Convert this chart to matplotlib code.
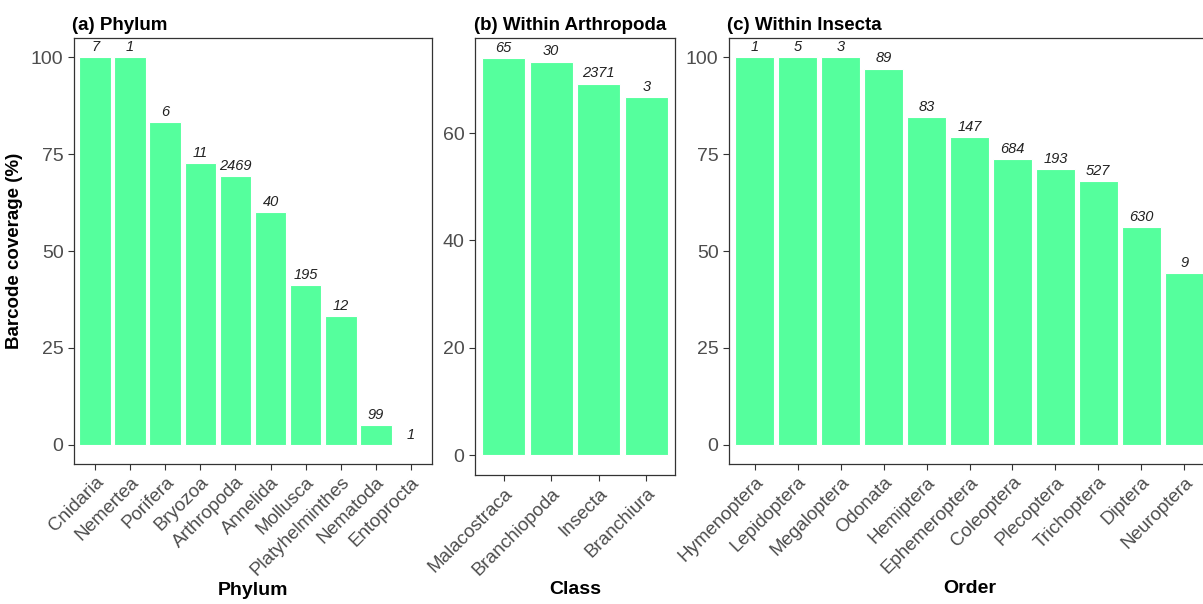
import matplotlib
matplotlib.use("Agg")
import matplotlib.pyplot as plt

plt.rcParams['font.family'] = ['Liberation Sans', 'DejaVu Sans']

# Panel (a) - phylum
phylum = ["Cnidaria", "Nemertea", "Porifera", "Bryozoa", "Arthropoda", "Annelida",
          "Mollusca", "Platyhelminthes", "Nematoda", "Entoprocta"]
phylum_cov = [100, 100, 83.3, 72.7, 69.4, 60.0, 41.3, 33.3, 5.1, 0]
phylum_n = [7, 1, 6, 11, 2469, 40, 195, 12, 99, 1]

# Panel (b) - class within Arthropoda
cls = ["Malacostraca", "Branchiopoda", "Insecta", "Branchiura"]
cls_cov = [74.0, 73.3, 69.2, 66.7]
cls_n = [65, 30, 2371, 3]

# Panel (c) - order within Insecta
order = ["Hymenoptera", "Lepidoptera", "Megaloptera", "Odonata", "Hemiptera",
         "Ephemeroptera", "Coleoptera", "Plecoptera", "Trichoptera", "Diptera", "Neuroptera"]
order_cov = [100, 100, 100, 97.1, 84.5, 79.4, 73.8, 71.2, 68.1, 56.1, 44.4]
order_n = [1, 5, 3, 89, 83, 147, 684, 193, 527, 630, 9]

BAR = "#55FF9D"
W, H = 1203, 604


def panel(rect, names, vals, counts, title, xlabel, yticks, ylabel=None):
    l, r, t, b = rect
    ax = fig.add_axes([l / W, 1 - b / H, (r - l) / W, (b - t) / H])
    x = range(len(names))
    ax.bar(x, vals, width=0.9, color=BAR, edgecolor="white", linewidth=0.8)
    top = max(vals)
    for xi, v, n in zip(x, vals, counts):
        ax.text(xi, v + top * 0.008, str(n), ha="center", va="bottom",
                fontsize=10.5, style="italic", color="#222222")
    ax.set_xlim(-0.6, len(names) - 0.4)
    ax.set_ylim(-top * 0.05, top * 1.05)
    ax.set_yticks(yticks)
    ax.set_xticks(list(x))
    ax.set_xticklabels(names, rotation=45, ha="right", va="top",
                       rotation_mode="anchor", fontsize=13.5, color="#4D4D4D")
    ax.tick_params(axis="y", labelsize=14, labelcolor="#4D4D4D", color="#333333", length=4)
    ax.tick_params(axis="x", color="#333333", length=4, pad=3)
    for s in ax.spines.values():
        s.set_color("#333333")
        s.set_linewidth(0.9)
    ax.set_title(title, loc="left", fontsize=13.5, fontweight="bold", pad=6, x=-0.005)
    ax.set_xlabel(xlabel, fontsize=14, fontweight="bold", labelpad=2)
    if ylabel:
        ax.set_ylabel(ylabel, fontsize=13.5, fontweight="bold", labelpad=6)
    return ax


fig = plt.figure(figsize=(W / 100, H / 100), dpi=100)
panel((74, 432, 38, 464), phylum, phylum_cov, phylum_n, "(a) Phylum", "Phylum",
      [0, 25, 50, 75, 100], "Barcode coverage (%)")
panel((475, 675, 38, 475), cls, cls_cov, cls_n, "(b) Within Arthropoda", "Class",
      [0, 20, 40, 60])
panel((729, 1210, 38, 464), order, order_cov, order_n, "(c) Within Insecta", "Order",
      [0, 25, 50, 75, 100])

fig.savefig("out.png", dpi=100)
